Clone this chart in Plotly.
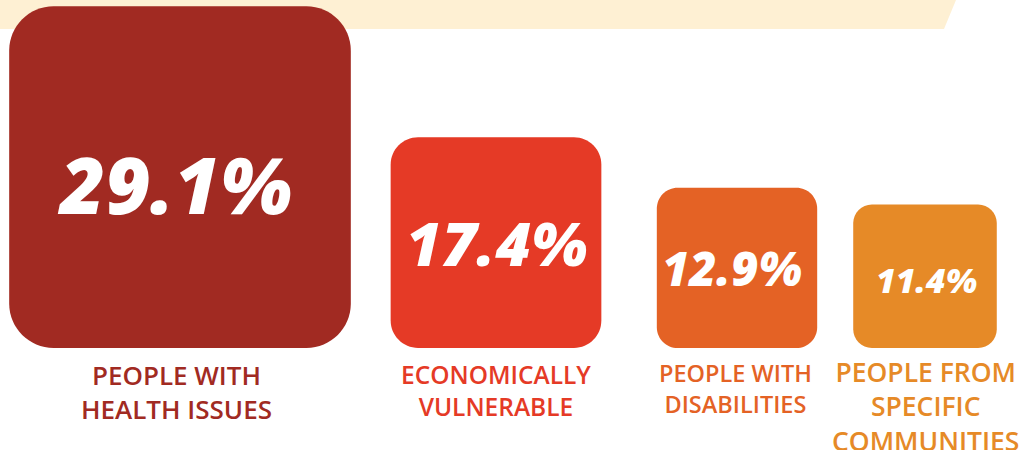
import plotly.graph_objects as go

# ---- data ----
CATEGORIES = ["PEOPLE WITH<br>HEALTH ISSUES", "ECONOMICALLY<br>VULNERABLE",
              "PEOPLE WITH<br>DISABILITIES", "PEOPLE FROM<br>SPECIFIC<br>COMMUNITIES"]
VALUES = [29.1, 17.4, 12.9, 11.4]

# ---- style / layout ----
COLORS = ["#A12A22", "#E53A26", "#E46225", "#E68A27"]
BOX_CENTER_PX = [180, 496, 737, 925]
VALUE_FONT = [78, 61, 47, 34]
VALUE_DX = [-6, 1, -5, 1]       # px nudges of the % text inside the box
VALUE_DY = [7, 0, 0, 4]
LABEL_CENTER_PX = [176, 496, 735, 925]
LABEL_FONT = [26, 24.5, 23.5, 26.5]
LABEL_CAP_TOP_PX = [366, 367, 365, 364]
BAND_COLOR = "#FEF0D3"
W, H = 1021, 450
BASE = -1.43          # value scale origin (boxes sit on this baseline)
PX_PER_UNIT = 11.19   # pixels per percentage point
BASELINE_PX = 348     # baseline position from top
CORNER = 0.13

y_lo = BASE - (H - BASELINE_PX) / PX_PER_UNIT
y_hi = BASE + BASELINE_PX / PX_PER_UNIT


def px_to_y(p):
    return BASE + (BASELINE_PX - p) / PX_PER_UNIT


fig = go.Figure()
fig.add_trace(go.Scatter(x=[0], y=[BASE], mode="markers", marker=dict(opacity=0),
                         hoverinfo="skip", showlegend=False))

shapes = []
band_b = 1 - 29 / H
shapes.append(dict(type="path", xref="x", yref="paper", layer="below",
                   path=f"M 0,1 L 956,1 L 944,{band_b} L 0,{band_b} Z",
                   fillcolor=BAND_COLOR, line=dict(width=0)))

K = 0.5523
annotations = []
for i, v in enumerate(VALUES):
    c = COLORS[i]
    side_px = (v - BASE) * PX_PER_UNIT
    cx = BOX_CENTER_PX[i]
    x0, x1 = cx - side_px / 2, cx + side_px / 2
    y0, y1 = BASE, v
    rx = CORNER * side_px
    ry = rx / PX_PER_UNIT
    kx, ky = rx * K, ry * K
    p = (f"M {x0+rx},{y1} L {x1-rx},{y1} "
         f"C {x1-rx+kx},{y1} {x1},{y1-ry+ky} {x1},{y1-ry} "
         f"L {x1},{y0+ry} "
         f"C {x1},{y0+ry-ky} {x1-rx+kx},{y0} {x1-rx},{y0} "
         f"L {x0+rx},{y0} "
         f"C {x0+rx-kx},{y0} {x0},{y0+ry-ky} {x0},{y0+ry} "
         f"L {x0},{y1-ry} "
         f"C {x0},{y1-ry+ky} {x0+rx-kx},{y1} {x0+rx},{y1} Z")
    shapes.append(dict(type="path", xref="x", yref="y", layer="below", path=p,
                       fillcolor=c, line=dict(width=0)))
    annotations.append(dict(x=cx + VALUE_DX[i], y=(y0 + y1) / 2 - VALUE_DY[i] / PX_PER_UNIT,
                            xref="x", yref="y",
                            text=f"{v}%", showarrow=False, xanchor="center", yanchor="middle",
                            font=dict(family="Open Sans", size=VALUE_FONT[i], color="white",
                                      weight=800, style="italic")))
    fs = LABEL_FONT[i]
    annotations.append(dict(x=LABEL_CENTER_PX[i], y=px_to_y(LABEL_CAP_TOP_PX[i] - 0.44 * fs),
                            xref="x", yref="y",
                            text=CATEGORIES[i], showarrow=False, xanchor="center", yanchor="top",
                            align="center",
                            font=dict(family="Open Sans", size=fs, color=c, weight=600)))

fig.update_layout(
    width=W, height=H, margin=dict(l=0, r=0, t=0, b=0),
    paper_bgcolor="white", plot_bgcolor="white",
    xaxis=dict(range=[0, W], visible=False, fixedrange=True),
    yaxis=dict(range=[y_lo, y_hi], visible=False, fixedrange=True),
    shapes=shapes, annotations=annotations, showlegend=False,
)
fig.write_html("out.html")
